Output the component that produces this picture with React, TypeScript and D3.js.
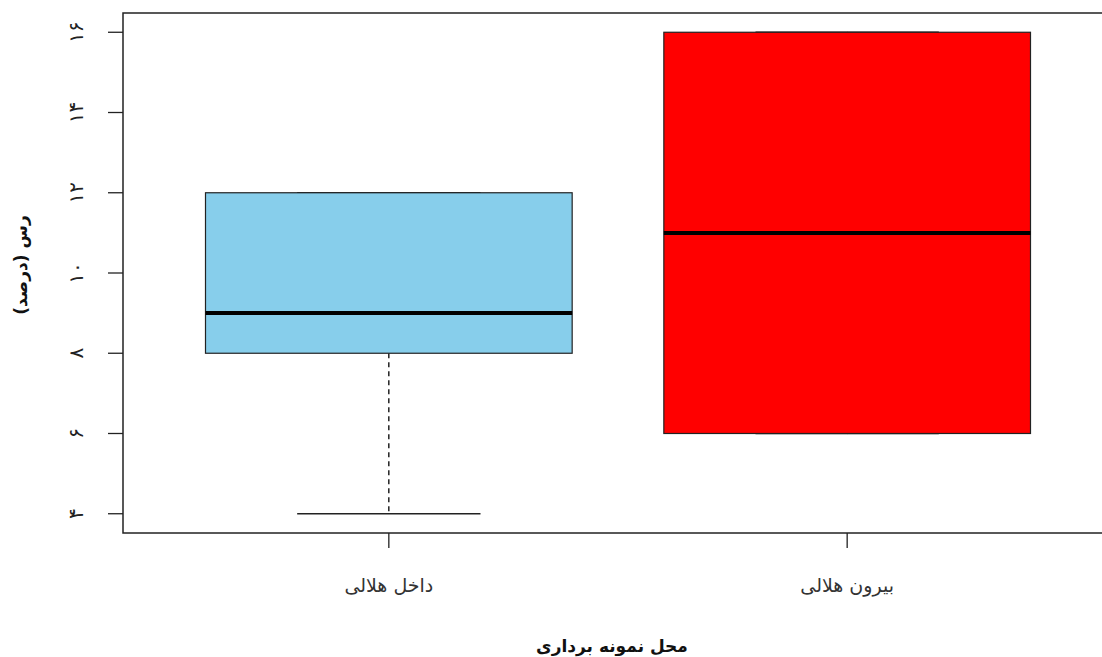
import { useEffect, useRef } from "react"
import * as d3 from "d3"

// groups and five-number summaries
const categories = ["داخل هلالی", "بیرون هلالی"]
const lowerWhisker = [4, 6]
const q1 = [8, 6]
const median = [9, 11]
const q3 = [12, 16]
const upperWhisker = [12, 16]
const fills = ["#87CEEB", "#FF0000"]

const yTicks = [4, 6, 8, 10, 12, 14, 16]
const yTickLabels = ["۴", "۶", "۸", "۱۰", "۱۲", "۱۴", "۱۶"]

const xTitle = "محل نمونه برداری"
const yTitle = "رس (درصد)"

const W = 1102
const H = 657
const FONT = "'DejaVu Sans', sans-serif"

export default function App() {
  const svgRef = useRef<SVGSVGElement>(null)

  useEffect(() => {
    if (!svgRef.current) return
    const svg = d3.select(svgRef.current)
    svg.selectAll("*").remove()

    const margin = { top: 13, right: -11, bottom: 124, left: 123 }
    const plotW = W - margin.left - margin.right
    const plotH = H - margin.top - margin.bottom

    // R style: range padded by 4% on each side
    const x = d3.scaleLinear().domain([0.42, 2.58]).range([0, plotW])
    const y = d3.scaleLinear().domain([3.52, 16.48]).range([plotH, 0])

    const g = svg.append("g").attr("transform", `translate(${margin.left},${margin.top})`)

    const boxHalf = 0.4
    const capHalf = 0.2

    categories.forEach((_, i) => {
      const cx = x(i + 1)
      const left = x(i + 1 - boxHalf)
      const right = x(i + 1 + boxHalf)

      // whiskers
      g.append("line")
        .attr("x1", cx).attr("x2", cx)
        .attr("y1", y(q1[i])).attr("y2", y(lowerWhisker[i]))
        .attr("stroke", "#000").attr("stroke-width", 1.3)
        .attr("stroke-dasharray", "5,4")
      g.append("line")
        .attr("x1", cx).attr("x2", cx)
        .attr("y1", y(q3[i])).attr("y2", y(upperWhisker[i]))
        .attr("stroke", "#000").attr("stroke-width", 1.3)
        .attr("stroke-dasharray", "5,4")

      // caps
      ;[lowerWhisker[i], upperWhisker[i]].forEach((v) => {
        g.append("line")
          .attr("x1", x(i + 1 - capHalf)).attr("x2", x(i + 1 + capHalf))
          .attr("y1", y(v)).attr("y2", y(v))
          .attr("stroke", "#222").attr("stroke-width", 1.3)
      })

      // box
      g.append("rect")
        .attr("x", left)
        .attr("y", y(q3[i]))
        .attr("width", right - left)
        .attr("height", y(q1[i]) - y(q3[i]))
        .attr("fill", fills[i])
        .attr("stroke", "#222")
        .attr("stroke-width", 1.2)

      // median
      g.append("line")
        .attr("x1", left).attr("x2", right)
        .attr("y1", y(median[i])).attr("y2", y(median[i]))
        .attr("stroke", "#000").attr("stroke-width", 4)
    })

    // frame
    g.append("rect")
      .attr("x", 0).attr("y", 0)
      .attr("width", plotW).attr("height", plotH)
      .attr("fill", "none")
      .attr("stroke", "#222")
      .attr("stroke-width", 1.5)

    // y axis
    yTicks.forEach((t, i) => {
      g.append("line")
        .attr("x1", -15).attr("x2", 0)
        .attr("y1", y(t)).attr("y2", y(t))
        .attr("stroke", "#222").attr("stroke-width", 1.3)
      g.append("text")
        .attr("transform", `translate(-47,${y(t)}) rotate(-90)`)
        .attr("text-anchor", "middle")
        .attr("dominant-baseline", "central")
        .attr("font-family", FONT)
        .attr("font-size", 20)
        .attr("fill", "#222")
        .text(yTickLabels[i])
    })

    // x axis
    categories.forEach((c, i) => {
      const cx = x(i + 1)
      g.append("line")
        .attr("x1", cx).attr("x2", cx)
        .attr("y1", plotH).attr("y2", plotH + 15)
        .attr("stroke", "#222").attr("stroke-width", 1.3)
      g.append("text")
        .attr("x", cx)
        .attr("y", plotH + 59)
        .attr("text-anchor", "middle")
        .attr("direction", "rtl")
        .attr("font-family", FONT)
        .attr("font-size", 19)
        .attr("fill", "#333")
        .text(c)
    })

    // titles
    svg.append("text")
      .attr("x", margin.left + plotW / 2 - 6)
      .attr("y", 652)
      .attr("text-anchor", "middle")
      .attr("direction", "rtl")
      .attr("font-family", FONT)
      .attr("font-size", 17)
      .attr("font-weight", "bold")
      .attr("fill", "#111")
      .text(xTitle)

    svg.append("text")
      .attr("transform", `translate(21,${margin.top + plotH / 2 - 8}) rotate(-90)`)
      .attr("text-anchor", "middle")
      .attr("dominant-baseline", "central")
      .attr("direction", "rtl")
      .attr("font-family", FONT)
      .attr("font-size", 17)
      .attr("font-weight", "bold")
      .attr("fill", "#111")
      .text(yTitle)
  }, [])

  return (
    <div style={{ position: "fixed", left: 0, top: 0, width: W, height: H, background: "#fff" }}>
      <svg ref={svgRef} width={W} height={H} style={{ display: "block" }} />
    </div>
  )
}
